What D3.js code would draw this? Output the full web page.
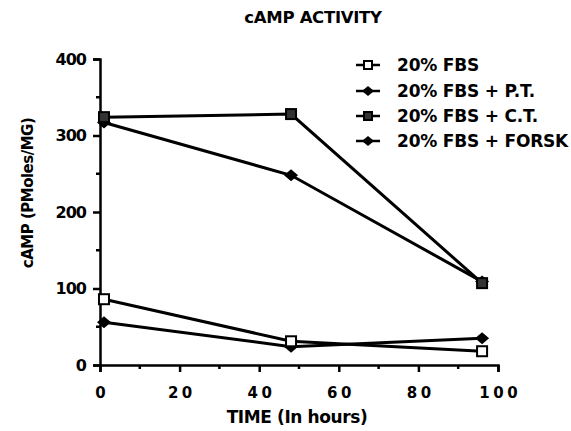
<!DOCTYPE html>
<html>
<head>
<meta charset="utf-8">
<script src="https://cdn.jsdelivr.net/npm/d3@7"></script>
<style>
  body { margin: 0; background: #fff; }
  text { font-family: "DejaVu Sans", sans-serif; font-weight: bold; fill: #000; }
</style>
</head>
<body>
<script>
// data
const hours = [1, 48, 96];
const fbs = [86, 31, 18];
const fbsPT = [56, 24, 35];
const fbsCT = [324, 328, 107];
const fbsForsk = [317, 248, 109];
const seriesNames = ["20% FBS", "20% FBS + P.T.", "20% FBS + C.T.", "20% FBS + FORSK"];
const xTicks = [0, 20, 40, 60, 80, 100];
const yTicks = [0, 100, 200, 300, 400];

let series = [
  {name: seriesNames[0], values: fbs, shape: "squareOpen"},
  {name: seriesNames[1], values: fbsPT, shape: "diamond"},
  {name: seriesNames[2], values: fbsCT, shape: "square"},
  {name: seriesNames[3], values: fbsForsk, shape: "diamond"}
];

const W = 571, H = 431;
const svg = d3.select("body").append("svg").attr("width", W).attr("height", H);

const x = d3.scaleLinear().domain([0, 100]).range([100, 498]);
const y = d3.scaleLinear().domain([0, 400]).range([365, 59]);

// title
svg.append("text").attr("x", 313).attr("y", 23).attr("text-anchor", "middle")
  .style("font-size", "16.5px").style("letter-spacing", "-0.3px").text("cAMP ACTIVITY");

// axes
function styleAxis(g){
  g.selectAll("path").attr("stroke", "#000").attr("stroke-width", 2.5);
  g.selectAll("line").attr("stroke", "#000").attr("stroke-width", 2.5);
  g.selectAll("text").style("font-family", null);
}
let gx = svg.append("g").attr("transform", "translate(0," + y(0) + ")")
  .call(d3.axisBottom(x).tickValues(xTicks).tickSize(7).tickSizeOuter(7).tickPadding(15));
styleAxis(gx);
gx.selectAll("text").style("font-size", "15px").style("letter-spacing", "3.5px").attr("dx", "1.75px");
gx.append("g").selectAll("line").data(d3.range(10, 100, 20)).enter().append("line")
  .attr("x1", d => x(d)).attr("x2", d => x(d)).attr("y1", 0).attr("y2", 4)
  .attr("stroke", "#000").attr("stroke-width", 2.5);

let gy = svg.append("g").attr("transform", "translate(" + x(0) + ",0)")
  .call(d3.axisLeft(y).tickValues(yTicks).tickSize(7).tickSizeOuter(7).tickPadding(7));
styleAxis(gy);
gy.selectAll("text").style("font-size", "16px").style("letter-spacing", "-1px");
gy.append("g").selectAll("line").data(d3.range(50, 400, 100)).enter().append("line")
  .attr("x1", 0).attr("x2", -4).attr("y1", d => y(d)).attr("y2", d => y(d))
  .attr("stroke", "#000").attr("stroke-width", 2.5);

// axis titles
svg.append("text").attr("x", 297).attr("y", 423).attr("text-anchor", "middle")
  .style("font-size", "17px").style("letter-spacing", "-0.4px").text("TIME (In hours)");
svg.append("text").attr("transform", "translate(33,193) rotate(-90)").attr("text-anchor", "middle")
  .style("font-size", "15px").style("letter-spacing", "-0.5px").text("cAMP (PMoles/MG)");

// markers
function drawMarker(g, shape, cx, cy, r){
  if(shape === "diamond"){
    g.append("path")
      .attr("d", "M" + (cx - r - 1) + "," + cy + "L" + cx + "," + (cy - r) + "L" + (cx + r + 1) + "," + cy + "L" + cx + "," + (cy + r) + "Z")
      .attr("fill", "#000");
  } else {
    g.append("rect").attr("x", cx - r + 1).attr("y", cy - r + 1).attr("width", 2 * r - 2).attr("height", 2 * r - 2)
      .attr("fill", shape === "squareOpen" ? "#fff" : "#333")
      .attr("stroke", "#000").attr("stroke-width", 2);
  }
}

const line = d3.line().x((d, i) => x(hours[i])).y(d => y(d));
// diamonds first so the squares sit on top where they meet
let drawOrder = [1, 3, 0, 2];
drawOrder.forEach(k => {
  let s = series[k];
  let g = svg.append("g");
  g.append("path").attr("d", line(s.values)).attr("fill", "none")
    .attr("stroke", "#000").attr("stroke-width", 3);
  s.values.forEach((v, i) => drawMarker(g, s.shape, x(hours[i]), y(v), 6));
});

// legend
const legendY = [65, 91, 116, 141];
series.forEach((s, i) => {
  let g = svg.append("g");
  g.append("line").attr("x1", 356).attr("x2", 380).attr("y1", legendY[i]).attr("y2", legendY[i])
    .attr("stroke", "#000").attr("stroke-width", 2.5);
  drawMarker(g, s.shape, 368, legendY[i], 5);
  g.append("text").attr("x", 397).attr("y", legendY[i] + 6)
    .style("font-size", "17px").style("letter-spacing", "-0.2px").text(s.name);
});
</script>
</body>
</html>
